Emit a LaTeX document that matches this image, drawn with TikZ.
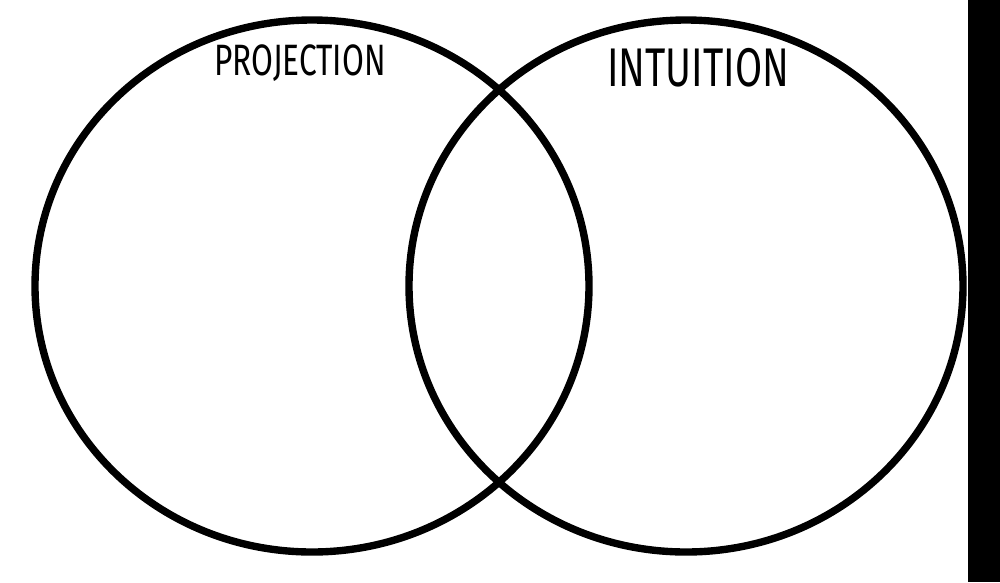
\documentclass[tikz,border=0pt]{standalone}
\usepackage{fontspec}
\setmainfont{Fira Sans}
\usetikzlibrary{positioning}

\begin{document}
\begin{tikzpicture}[x=0.1mm,y=-0.1mm]

\useasboundingbox (0,0) rectangle (1000,582);
\fill (968,0) rectangle (1000,582);

\coordinate (cl) at (312,286);
\coordinate (cr) at (686,286);

\foreach \c in {cl,cr}{\draw[line width=2.1pt] (\c) ellipse (277 and 266);}
\node (proj) at (300,63) {\scalebox{0.72}[1]{\fontsize{12.5}{14}\selectfont PROJECTION}};
\node (intu) at (698,68) {\scalebox{0.72}[1]{\fontsize{15.5}{17}\selectfont INTUITION}};

\end{tikzpicture}
\end{document}
